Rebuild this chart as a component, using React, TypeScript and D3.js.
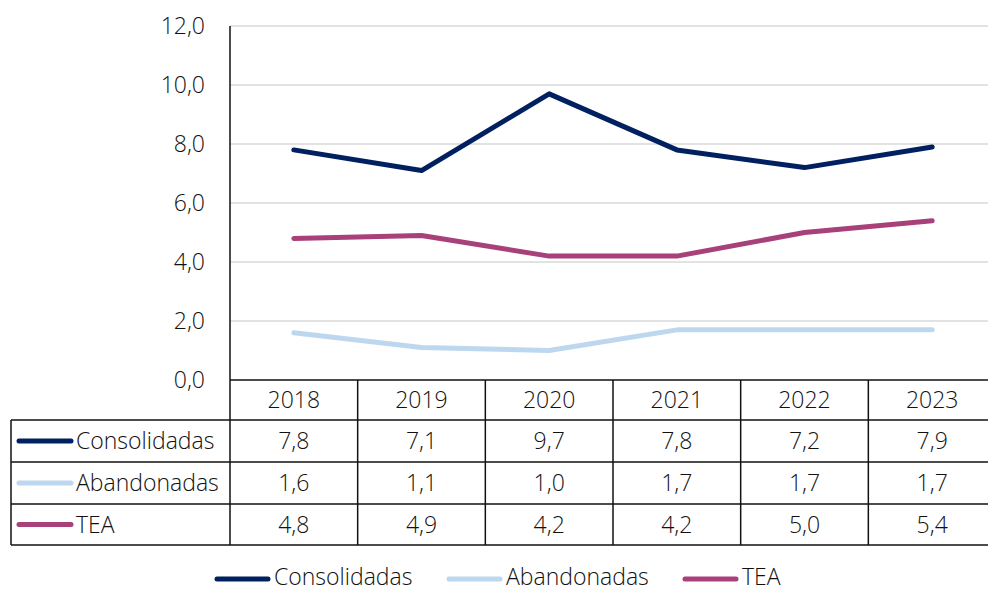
import React, { useRef, useEffect } from 'react';
import * as d3 from 'd3';

const years = ['2018', '2019', '2020', '2021', '2022', '2023'];
const consolidadas = [7.8, 7.1, 9.7, 7.8, 7.2, 7.9];
const abandonadas = [1.6, 1.1, 1.0, 1.7, 1.7, 1.7];
const tea = [4.8, 4.9, 4.2, 4.2, 5.0, 5.4];
const seriesNames = ['Consolidadas', 'Abandonadas', 'TEA'];
const seriesColors = ['#002060', '#bdd7ee', '#a8417a'];
const yTicks = [0, 2, 4, 6, 8, 10, 12];

const App = () => {
  const svgRef = useRef<SVGSVGElement>(null);

  useEffect(() => {
    if (!svgRef.current) return;
    const svg = d3.select(svgRef.current);
    svg.selectAll('*').remove();

    const width = 988;
    const height = 593;
    const left = 230;
    const right = 996;
    const top = 26;
    const bottom = 380;
    const font = '"Open Sans", Lato, sans-serif';
    const fw = 300;
    const fs = 23;
    const allSeries = [consolidadas, abandonadas, tea];

    const x = d3.scaleBand().domain(years).range([left, right]);
    const y = d3.scaleLinear().domain([0, 12]).range([bottom, top]);

    svg.attr('width', width).attr('height', height).style('background', '#fff');

    // сетка
    svg.append('g')
      .selectAll('line')
      .data(yTicks.slice(1))
      .join('line')
      .attr('x1', left)
      .attr('x2', right)
      .attr('y1', d => y(d))
      .attr('y2', d => y(d))
      .attr('stroke', '#d9d9d9')
      .attr('stroke-width', 1.3);

    // подписи оси Y
    svg.append('g')
      .selectAll('text')
      .data(yTicks)
      .join('text')
      .attr('x', 205)
      .attr('y', d => y(d))
      .attr('dy', '0.35em')
      .attr('text-anchor', 'end')
      .attr('font-family', font)
      .attr('font-weight', fw)
      .attr('font-size', fs)
      .attr('fill', '#111')
      .text(d => d3.format('.1f')(d).replace('.', ','));

    // линии
    const line = d3.line<number>()
      .x((d, i) => x(years[i])! + x.bandwidth() / 2)
      .y(d => y(d));

    allSeries.forEach((s, k) => {
      svg.append('path')
        .datum(s)
        .attr('fill', 'none')
        .attr('stroke', seriesColors[k])
        .attr('stroke-width', 5)
        .attr('stroke-linecap', 'round')
        .attr('stroke-linejoin', 'round')
        .attr('d', line);
    });

    // таблица данных
    const rowH = [40, 42, 42, 41];
    const rowY = [bottom];
    rowH.forEach(h => rowY.push(rowY[rowY.length - 1] + h));
    const tableLeft = 11;
    const g = svg.append('g');
    const stroke = '#111';

    g.append('line').attr('x1', left).attr('x2', right).attr('y1', rowY[0]).attr('y2', rowY[0])
      .attr('stroke', stroke).attr('stroke-width', 1.5);
    rowY.slice(1).forEach(yy => {
      g.append('line').attr('x1', tableLeft).attr('x2', right).attr('y1', yy).attr('y2', yy)
        .attr('stroke', stroke).attr('stroke-width', 1.5);
    });
    g.append('line').attr('x1', left).attr('x2', left).attr('y1', top).attr('y2', rowY[4])
      .attr('stroke', stroke).attr('stroke-width', 1.5);
    years.forEach(yr => {
      const xx = x(yr)! + x.bandwidth();
      g.append('line').attr('x1', xx).attr('x2', xx).attr('y1', rowY[0]).attr('y2', rowY[4])
        .attr('stroke', stroke).attr('stroke-width', 1.5);
    });
    g.append('line').attr('x1', tableLeft).attr('x2', tableLeft).attr('y1', rowY[1]).attr('y2', rowY[4])
      .attr('stroke', stroke).attr('stroke-width', 1.5);

    // заголовки лет
    g.selectAll('text.year')
      .data(years)
      .join('text')
      .attr('class', 'year')
      .attr('x', d => x(d)! + x.bandwidth() / 2)
      .attr('y', (rowY[0] + rowY[1]) / 2)
      .attr('dy', '0.35em')
      .attr('text-anchor', 'middle')
      .attr('font-family', font)
      .attr('font-weight', fw)
      .attr('font-size', fs)
      .attr('fill', '#111')
      .text(d => d);

    allSeries.forEach((s, k) => {
      const cy = (rowY[k + 1] + rowY[k + 2]) / 2;
      g.append('line')
        .attr('x1', 19).attr('x2', 71).attr('y1', cy).attr('y2', cy)
        .attr('stroke', seriesColors[k]).attr('stroke-width', 5).attr('stroke-linecap', 'round');
      g.append('text')
        .attr('x', 76).attr('y', cy).attr('dy', '0.35em')
        .attr('font-family', font).attr('font-weight', fw).attr('font-size', fs).attr('fill', '#111')
        .text(seriesNames[k]);
      g.selectAll(`text.v${k}`)
        .data(s)
        .join('text')
        .attr('class', `v${k}`)
        .attr('x', (d, i) => x(years[i])! + x.bandwidth() / 2)
        .attr('y', cy)
        .attr('dy', '0.35em')
        .attr('text-anchor', 'middle')
        .attr('font-family', font)
        .attr('font-weight', fw)
        .attr('font-size', fs)
        .attr('fill', '#111')
        .text(d => d3.format('.1f')(d).replace('.', ','));
    });

    // легенда
    const legendX = [217, 449, 685];
    const ly = 579;
    seriesNames.forEach((name, k) => {
      svg.append('line')
        .attr('x1', legendX[k]).attr('x2', legendX[k] + 51).attr('y1', ly).attr('y2', ly)
        .attr('stroke', seriesColors[k]).attr('stroke-width', 5).attr('stroke-linecap', 'round');
      svg.append('text')
        .attr('x', legendX[k] + 57).attr('y', ly).attr('dy', '0.28em')
        .attr('font-family', font).attr('font-weight', fw).attr('font-size', fs).attr('fill', '#111')
        .text(name);
    });
  }, []);

  return (
    <div style={{ position: 'absolute', left: 0, top: 0 }}>
      <svg ref={svgRef}></svg>
    </div>
  );
};

export default App;
